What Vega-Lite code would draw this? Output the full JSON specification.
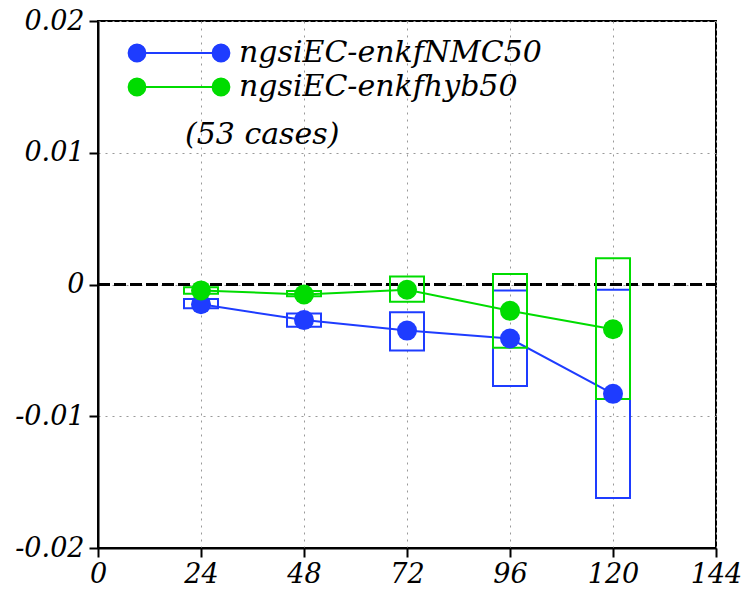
{
  "$schema": "https://vega.github.io/schema/vega-lite/v6.json",
  "autosize": {"type": "none"},
  "width": 618,
  "height": 527,
  "padding": {"left": 98, "top": 21, "right": 33, "bottom": 48},
  "background": "white",
  "title": {
    "text": "(53 cases)",
    "orient": "top",
    "anchor": "start",
    "frame": "group",
    "font": "DejaVu Serif",
    "fontStyle": "italic",
    "fontWeight": "normal",
    "fontSize": 30,
    "color": "black",
    "baseline": "alphabetic",
    "offset": 0,
    "dx": 87,
    "dy": 167
  },
  "config": {
    "view": {"stroke": "black", "strokeWidth": 2},
    "axis": {
      "labelFont": "DejaVu Serif",
      "labelFontStyle": "italic",
      "labelFontSize": 27,
      "labelColor": "black",
      "domainColor": "black",
      "domainWidth": 2,
      "tickColor": "black",
      "tickWidth": 2,
      "tickSize": 9,
      "gridColor": "#999999",
      "gridDash": [2, 5],
      "gridWidth": 1,
      "title": null
    }
  },
  "data": {
    "values": [
      {"lead": 24, "series": "ngsiEC-enkfNMC50", "mean": -0.0015, "lo": -0.0018, "hi": -0.0011},
      {"lead": 48, "series": "ngsiEC-enkfNMC50", "mean": -0.0027, "lo": -0.0032, "hi": -0.0022},
      {"lead": 72, "series": "ngsiEC-enkfNMC50", "mean": -0.0035, "lo": -0.0050, "hi": -0.0021},
      {"lead": 96, "series": "ngsiEC-enkfNMC50", "mean": -0.0041, "lo": -0.0077, "hi": -0.00045},
      {"lead": 120, "series": "ngsiEC-enkfNMC50", "mean": -0.0083, "lo": -0.0162, "hi": -0.0004},
      {"lead": 24, "series": "ngsiEC-enkfhyb50", "mean": -0.00045, "lo": -0.0007, "hi": -0.0002},
      {"lead": 48, "series": "ngsiEC-enkfhyb50", "mean": -0.00076, "lo": -0.0009, "hi": -0.0005},
      {"lead": 72, "series": "ngsiEC-enkfhyb50", "mean": -0.0004, "lo": -0.0013, "hi": 0.0006},
      {"lead": 96, "series": "ngsiEC-enkfhyb50", "mean": -0.0020, "lo": -0.0048, "hi": 0.0008},
      {"lead": 120, "series": "ngsiEC-enkfhyb50", "mean": -0.0034, "lo": -0.0087, "hi": 0.0020}
    ]
  },
  "encoding": {
    "x": {
      "field": "lead",
      "type": "quantitative",
      "scale": {"domain": [0, 144], "nice": false, "zero": false},
      "axis": {"values": [0, 24, 48, 72, 96, 120, 144], "labelPadding": 4, "grid": true, "labelFlush": false}
    },
    "color": {
      "field": "series",
      "type": "nominal",
      "scale": {"domain": ["ngsiEC-enkfNMC50", "ngsiEC-enkfhyb50"], "range": ["rgb(30,60,255)", "rgb(0,220,0)"]},
      "legend": {
        "orient": "none",
        "legendX": 66,
        "legendY": 17,
        "title": null,
        "padding": 0,
        "symbolType": "M-3,0L3,0M-2.4,0A0.6,0.6,0,1,1,-3.6,0A0.6,0.6,0,1,1,-2.4,0M3.6,0A0.6,0.6,0,1,1,2.4,0A0.6,0.6,0,1,1,3.6,0",
        "symbolSize": 784,
        "symbolStrokeWidth": 2,
        "labelFont": "DejaVu Serif",
        "labelFontStyle": "italic",
        "labelFontSize": 30,
        "labelColor": "black",
        "labelOffset": 45,
        "labelLimit": 600,
        "rowPadding": 4,
        "encode": {
          "symbols": {"update": {
            "stroke": {"scale": "color", "field": "value"},
            "fill": {"scale": "color", "field": "value"},
            "strokeWidth": {"value": 2},
            "opacity": {"value": 1}
          }}
        }
      }
    }
  },
  "layer": [
    {
      "mark": {"type": "rule", "strokeWidth": 2, "strokeDash": [12, 4]},
      "encoding": {"y": {"datum": 0, "type": "quantitative"}, "x": {"value": 0}, "x2": {"value": 618}, "color": {"value": "black"}}
    },
    {
      "mark": {"type": "line", "strokeWidth": 2},
      "encoding": {
        "y": {
          "field": "mean",
          "type": "quantitative",
          "scale": {"domain": [-0.02, 0.02], "nice": false, "zero": false},
          "axis": {
            "values": [-0.02, -0.01, 0, 0.01, 0.02],
            "grid": true,
            "labelPadding": 5,
            "labelFlush": false,
            "labelExpr": "replace(format(datum.value, '.2~f'), '\u2212', '-')"
          }
        }
      }
    },
    {
      "mark": {"type": "rect", "filled": false, "strokeWidth": 2, "width": 34},
      "encoding": {
        "y": {"field": "lo", "type": "quantitative"},
        "y2": {"field": "hi"}
      }
    },
    {
      "mark": {"type": "point", "filled": true, "opacity": 1, "size": 400, "shape": "circle"},
      "encoding": {
        "y": {"field": "mean", "type": "quantitative"}
      }
    }
  ]
}
